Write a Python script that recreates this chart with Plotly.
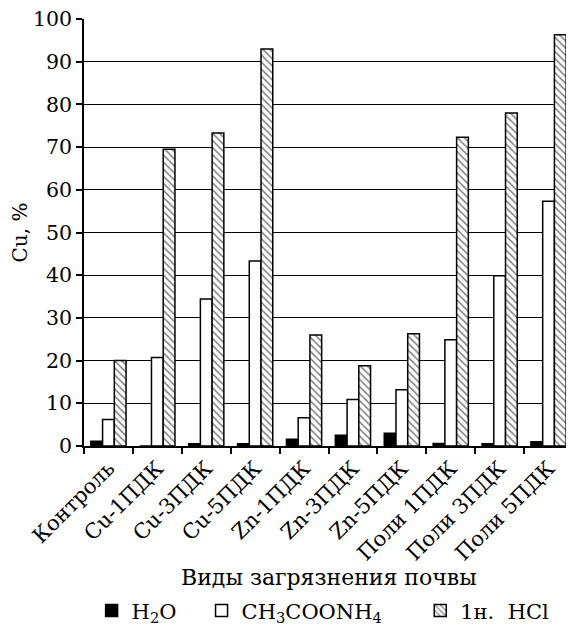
import plotly.graph_objects as go

categories = ["Контроль", "Cu-1ПДК", "Cu-3ПДК", "Cu-5ПДК", "Zn-1ПДК", "Zn-3ПДК",
              "Zn-5ПДК", "Поли 1ПДК", "Поли 3ПДК", "Поли 5ПДК"]
h2o = [1.1, 0.0, 0.5, 0.5, 1.6, 2.5, 3.0, 0.6, 0.5, 1.0]
ch3coonh4 = [6.2, 20.7, 34.4, 43.3, 6.6, 10.9, 13.2, 24.9, 39.9, 57.3]
hcl = [20.0, 69.5, 73.3, 93.0, 26.0, 18.8, 26.3, 72.3, 78.0, 96.3]
y_ticks = list(range(0, 101, 10))

FONT = "DejaVu Serif"
NB = "\u00a0"
line = dict(color="black", width=1.5)

fig = go.Figure()
fig.add_trace(go.Bar(x=categories, y=h2o, name="H<sub>2</sub>O" + NB * 3,
                     marker=dict(color="black", line=line)))
fig.add_trace(go.Bar(x=categories, y=ch3coonh4, name="CH<sub>3</sub>COONH<sub>4</sub>" + NB * 5,
                     marker=dict(color="white", line=line)))
fig.add_trace(go.Bar(x=categories, y=hcl, name="1н.  HCl",
                     marker=dict(color="white", line=line,
                                 pattern=dict(shape="\\", fgcolor="black", bgcolor="white",
                                              size=5, solidity=0.3))))

# page body adds an 8px offset; the figure is sized to fit the window after it
fig.update_layout(
    width=566, height=624,
    margin=dict(l=76, r=1, t=11, b=186),
    paper_bgcolor="white", plot_bgcolor="white",
    font=dict(family=FONT, size=20, color="black"),
    barmode="group", bargap=0.28, bargroupgap=0,
    showlegend=True,
    legend=dict(orientation="h", x=0.489, xanchor="center", y=-0.386, yanchor="middle",
                font=dict(family=FONT, size=21), itemwidth=30),
    xaxis=dict(
        type="category", tickangle=-45, tickson="boundaries", automargin=False,
        ticks="outside", ticklen=6, tickwidth=1.5, tickcolor="black",
        showline=True, linecolor="black", linewidth=1.5,
        showgrid=False, tickfont=dict(family=FONT, size=21),
    ),
    yaxis=dict(
        range=[0, 100], tickvals=y_ticks, ticks="outside", ticklen=6, tickwidth=1.5,
        tickcolor="black", showline=True, linecolor="black", linewidth=1.5,
        showgrid=True, gridcolor="black", gridwidth=1.3, zeroline=False, automargin=False,
        ticklabeloverflow="allow",
        tickfont=dict(family=FONT, size=20.5),
        title=dict(text="Cu, %", font=dict(family=FONT, size=20)),
    ),
    annotations=[dict(text="Виды загрязнения почвы", xref="paper", yref="paper",
                      x=0.5, y=-0.307, xanchor="center", yanchor="middle", showarrow=False,
                      font=dict(family=FONT, size=22))],
)

fig.write_html("out.html")
